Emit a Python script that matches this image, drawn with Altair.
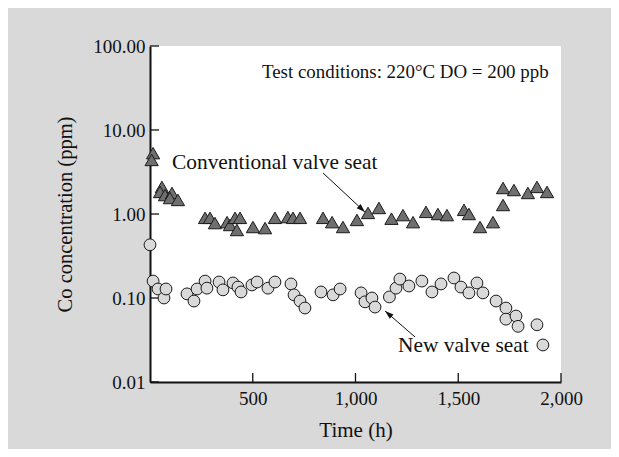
import altair as alt
import pandas as pd

# Conventional valve seat (triangles)
conv_time = [15, 8, 58, 49, 73, 107, 97, 136, 268, 292, 316, 375, 389, 414, 423, 438,
             501, 560, 608, 671, 696, 730, 842, 886, 939, 1007, 1061, 1114, 1175, 1231,
             1280, 1343, 1401, 1445, 1528, 1552, 1606, 1669, 1718, 1718, 1771, 1839,
             1883, 1932]
conv_val = [5.3, 4.4, 2.1, 1.83, 1.68, 1.78, 1.55, 1.47, 0.90, 0.90, 0.78, 0.80, 0.74,
            0.90, 0.645, 0.90, 0.70, 0.68, 0.90, 0.92, 0.90, 0.90, 0.90, 0.80, 0.70,
            0.85, 1.03, 1.18, 0.88, 0.97, 0.80, 1.06, 1.0, 0.97, 1.12, 1.0, 0.70, 0.80,
            1.28, 2.04, 1.93, 1.78, 2.10, 1.83]

# New valve seat (circles)
new_time = [0, 15, 39, 68, 78, 180, 214, 229, 268, 277, 336, 355, 404, 428, 443, 496,
            521, 574, 608, 686, 701, 730, 754, 832, 891, 925, 1027, 1046, 1080, 1095,
            1165, 1197, 1216, 1260, 1323, 1372, 1416, 1479, 1513, 1552, 1591, 1620,
            1684, 1732, 1732, 1781, 1791, 1883, 1912]
new_val = [0.43, 0.159, 0.128, 0.100, 0.128, 0.112, 0.092, 0.128, 0.159, 0.131, 0.155,
           0.125, 0.151, 0.135, 0.118, 0.143, 0.155, 0.131, 0.155, 0.147, 0.109, 0.092,
           0.076, 0.118, 0.109, 0.128, 0.115, 0.090, 0.100, 0.078, 0.103, 0.131, 0.168,
           0.139, 0.159, 0.118, 0.147, 0.173, 0.135, 0.115, 0.151, 0.115, 0.092, 0.076,
           0.056, 0.061, 0.046, 0.048, 0.0276]

y_ticks = [0.01, 0.1, 1, 10, 100]
x_ticks = [500, 1000, 1500, 2000]

ann_text = ["Test conditions: 220°C DO = 200 ppb", "Conventional valve seat", "New valve seat"]
ann_time = [545, 107, 1207]
ann_val = [49, 4.05, 0.0268]

arrow_start_time = [842, 1290]
arrow_start_val = [3.08, 0.0343]
arrow_tip_time = [1046, 1144]
arrow_tip_val = [1.056, 0.070]
arrow_angle = [133, 311]

FONT = "Liberation Serif"

conv_df = pd.DataFrame({"t": conv_time, "v": conv_val})
new_df = pd.DataFrame({"t": new_time, "v": new_val})
yt_df = pd.DataFrame({"v": y_ticks})
xt_df = pd.DataFrame({"t": x_ticks})
ann_df = pd.DataFrame({"t": ann_time, "v": ann_val, "label": ann_text})
arr_df = pd.DataFrame({"t": arrow_start_time, "v": arrow_start_val,
                       "t2": arrow_tip_time, "v2": arrow_tip_val, "ang": arrow_angle})

xscale = alt.Scale(domain=[0, 2000], nice=False, zero=False)
yscale = alt.Scale(type="log", domain=[0.01, 100], nice=False)

xaxis = alt.Axis(values=x_ticks, format=",d", title="Time (h)", grid=False, ticks=False,
                 tickSize=0, labelFlush=False, labelPadding=7, titlePadding=11,
                 labelFont=FONT, titleFont=FONT, labelFontSize=19, titleFontSize=21,
                 titleFontWeight="normal", labelColor="#111", titleColor="#111",
                 domainColor="#111", domainWidth=2)
yaxis = alt.Axis(values=y_ticks, format=".2f", title="Co concentration (ppm)", grid=False,
                 ticks=False, tickSize=0, labelFlush=False, labelPadding=5, titlePadding=17,
                 labelFont=FONT, titleFont=FONT, labelFontSize=19, titleFontSize=20.5,
                 titleFontWeight="normal", labelColor="#111", titleColor="#111",
                 domainColor="#111", domainWidth=2, labelOverlap=False)

x = alt.X("t:Q", scale=xscale, axis=xaxis)
y = alt.Y("v:Q", scale=yscale, axis=yaxis)

ytick_layer = alt.Chart(yt_df).mark_rule(color="#111", strokeWidth=1.3).encode(
    y=alt.Y("v:Q", scale=yscale), x=alt.value(0), x2=alt.value(9))
xtick_layer = alt.Chart(xt_df).mark_rule(color="#111", strokeWidth=1.3).encode(
    x=alt.X("t:Q", scale=xscale), y=alt.value(336), y2=alt.value(327))

tri = alt.Chart(conv_df).mark_point(shape="triangle-up", filled=True, size=175,
                                    fill="#6f6f6f", stroke="#1a1a1a", strokeWidth=1,
                                    opacity=1).encode(x=x, y=y)
circ = alt.Chart(new_df).mark_point(shape="circle", filled=True, size=140,
                                    fill="#d9d9d9", stroke="#1a1a1a", strokeWidth=1,
                                    opacity=1).encode(x=x, y=y)

arrow_line = alt.Chart(arr_df).mark_rule(color="#111", strokeWidth=1).encode(
    x=alt.X("t:Q", scale=xscale), y=alt.Y("v:Q", scale=yscale),
    x2="t2:Q", y2="v2:Q")
arrow_head = alt.Chart(arr_df).mark_point(
    shape="M0,0L-0.33,1L0.33,1Z", filled=True, size=300, fill="#111",
    strokeWidth=0, opacity=1).encode(
    x=alt.X("t2:Q", scale=xscale), y=alt.Y("v2:Q", scale=yscale),
    angle=alt.Angle("ang:Q", scale=None))

ann = alt.Chart(ann_df).mark_text(align="left", baseline="middle", font=FONT,
                                  color="#111").encode(
    x=alt.X("t:Q", scale=xscale), y=alt.Y("v:Q", scale=yscale), text="label:N",
    size=alt.condition(alt.datum.label == ann_text[0], alt.value(18.9), alt.value(21.4)))

chart = alt.layer(ytick_layer, xtick_layer, arrow_line, tri, circ, arrow_head, ann).properties(
    width=411, height=336,
    padding={"left": 142, "top": 38, "right": 50, "bottom": 67},
    autosize=alt.AutoSizeParams(type="none"),
    background="#d9d9d9",
).configure_view(fill="white", stroke=None)

chart.save("out.html", embed_options={"renderer": "svg", "actions": False})
